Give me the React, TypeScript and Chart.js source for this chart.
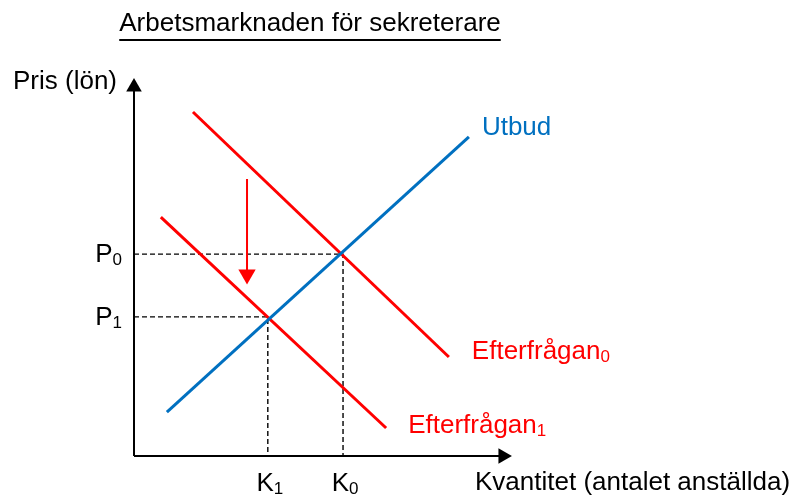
import React, { useEffect, useRef } from "react";
import { Chart, registerables } from "chart.js";

Chart.register(...registerables);

// ---- Data (chart units, 0..100 on both axes) ----
const utbudQ = [8.7, 88.6];
const utbudP = [11.6, 84.4];
const efterfragan0Q = [15.6, 83.3];
const efterfragan0P = [91.0, 26.2];
const efterfragan1Q = [7.1, 66.7];
const efterfragan1P = [63.2, 7.4];
const equilibriumQ = [55.3, 35.4]; // K0, K1
const equilibriumP = [53.4, 36.8]; // P0, P1
const priceLabels = ["P_0", "P_1"];
const quantityLabels = ["K_0", "K_1"];
const shiftArrowQ = [29.9, 29.9];
const shiftArrowP = [73.3, 48.0];
const axisEnd = [0, 97.6];
const lineLabels = ["Utbud", "Efterfrågan_0", "Efterfrågan_1"];
const titleText = "Arbetsmarknaden för sekreterare";
const yAxisTitle = "Pris (lön)";
const xAxisTitle = "Kvantitet (antalet anställda)";

const BLUE = "#0070C0";
const RED = "#FF0000";
const FONT = '"Liberation Sans", Arial, sans-serif';

const pts = (xs: number[], ys: number[]) => xs.map((x, i) => ({ x, y: ys[i] }));

function drawSubText(
  ctx: CanvasRenderingContext2D,
  label: string,
  x: number,
  y: number,
  align: "left" | "right" | "center",
  color: string
) {
  const [main, sub] = label.split("_");
  ctx.fillStyle = color;
  ctx.textAlign = "left";
  ctx.font = `26px ${FONT}`;
  const wMain = ctx.measureText(main).width;
  ctx.font = `17px ${FONT}`;
  const wSub = sub ? ctx.measureText(sub).width : 0;
  const total = wMain + wSub;
  let left = x;
  if (align === "right") left = x - total;
  if (align === "center") left = x - total / 2;
  ctx.font = `26px ${FONT}`;
  ctx.fillText(main, left, y);
  if (sub) {
    ctx.font = `17px ${FONT}`;
    ctx.fillText(sub, left + wMain, y + 3);
  }
}

const textPlugin = {
  id: "textLabels",
  afterDatasetsDraw(chart: any) {
    const { ctx, scales, chartArea } = chart;
    const xs = scales.x;
    const ys = scales.y;
    ctx.save();
    ctx.textBaseline = "alphabetic";

    // title with underline
    ctx.font = `26px ${FONT}`;
    ctx.fillStyle = "#000";
    ctx.textAlign = "left";
    const tw = ctx.measureText(titleText).width;
    const tx = 310 - tw / 2;
    ctx.fillText(titleText, tx, 31);
    ctx.fillRect(tx, 39, tw, 2);

    // axis titles
    ctx.textAlign = "right";
    ctx.fillText(yAxisTitle, chartArea.left - 17, chartArea.top + 11);
    ctx.textAlign = "left";
    ctx.fillText(xAxisTitle, chartArea.right - 37, chartArea.bottom + 34);

    // equilibrium labels
    equilibriumP.forEach((p, i) => {
      drawSubText(ctx, priceLabels[i], chartArea.left - 12, ys.getPixelForValue(p) + 8, "right", "#000");
    });
    equilibriumQ.forEach((q, i) => {
      drawSubText(ctx, quantityLabels[i], xs.getPixelForValue(q) + 2, chartArea.bottom + 35, "center", "#000");
    });

    // line labels
    drawSubText(ctx, lineLabels[0], xs.getPixelForValue(utbudQ[1]) + 13, ys.getPixelForValue(utbudP[1]) - 2, "left", BLUE);
    drawSubText(ctx, lineLabels[1], xs.getPixelForValue(efterfragan0Q[1]) + 23, ys.getPixelForValue(efterfragan0P[1]) + 2, "left", RED);
    drawSubText(ctx, lineLabels[2], xs.getPixelForValue(efterfragan1Q[1]) + 22, ys.getPixelForValue(efterfragan1P[1]) + 5, "left", RED);

    ctx.restore();
  },
};

export default function App() {
  const ref = useRef<HTMLCanvasElement>(null);

  useEffect(() => {
    if (!ref.current) return;
    const line = (data: any[], color: string, width: number, extra: any = {}) => ({
      data,
      showLine: true,
      borderColor: color,
      backgroundColor: color,
      borderWidth: width,
      pointRadius: 0,
      clip: false,
      ...extra,
    });

    const chart = new Chart(ref.current, {
      type: "scatter",
      data: {
        datasets: [
          line(pts(utbudQ, utbudP), BLUE, 3),
          line(pts(efterfragan0Q, efterfragan0P), RED, 3),
          line(pts(efterfragan1Q, efterfragan1P), RED, 3),
          line(pts(shiftArrowQ, shiftArrowP), RED, 2, {
            pointRadius: [0, 10],
            pointStyle: "triangle",
            rotation: 180,
            pointBorderWidth: 0,
          }),
          // y axis with arrow
          line(pts([0, 0], axisEnd), "#000", 2, {
            pointRadius: [0, 9],
            pointStyle: "triangle",
            rotation: 0,
            pointBorderWidth: 0,
          }),
          // x axis with arrow
          line(pts(axisEnd, [0, 0]), "#000", 2, {
            pointRadius: [0, 9],
            pointStyle: "triangle",
            rotation: 90,
            pointBorderWidth: 0,
          }),
          // dashed guides
          ...equilibriumQ.map((q, i) =>
            line(pts([0, q, q], [equilibriumP[i], equilibriumP[i], 0]), "#000", 1.4, {
              borderDash: [5, 3],
            })
          ),
        ],
      },
      options: {
        responsive: false,
        animation: false,
        events: [],
        layout: { padding: { left: 134, right: 285, top: 78, bottom: 41 } },
        scales: {
          x: { type: "linear", min: 0, max: 100, display: false },
          y: { type: "linear", min: 0, max: 100, display: false },
        },
        plugins: {
          legend: { display: false },
          tooltip: { enabled: false },
          title: { display: false },
        },
      },
      plugins: [textPlugin],
    });
    return () => chart.destroy();
  }, []);

  return (
    <div style={{ position: "absolute", left: 0, top: 0, width: 797, height: 497, background: "#fff" }}>
      <canvas ref={ref} width={797} height={497} style={{ display: "block" }} />
    </div>
  );
}
